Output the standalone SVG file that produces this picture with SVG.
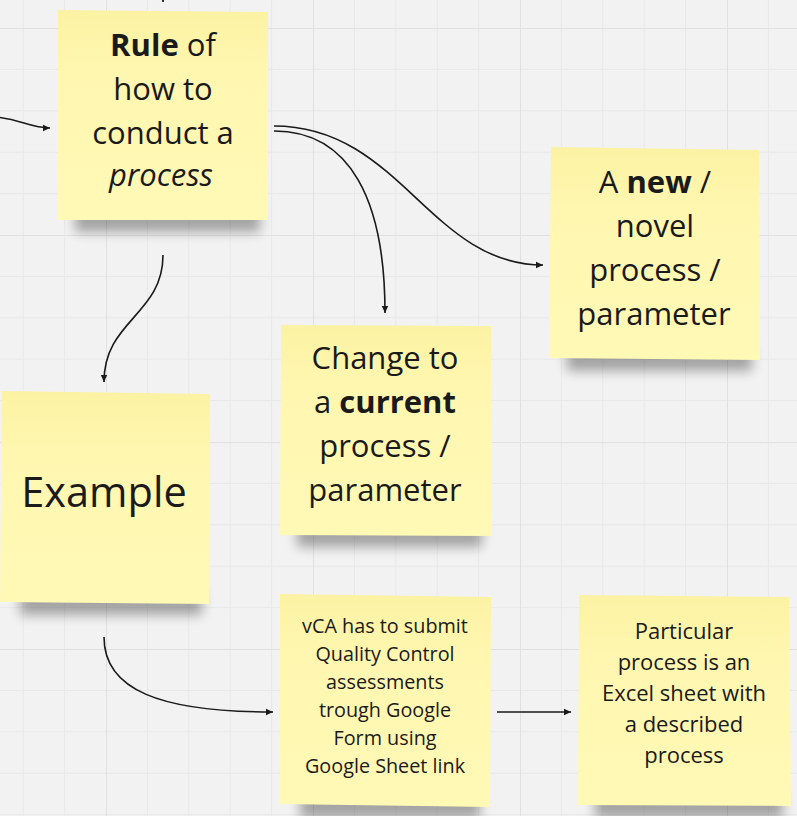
<svg xmlns="http://www.w3.org/2000/svg" width="797" height="816" viewBox="0 0 797 816">
  <defs>
    <pattern id="grid" patternUnits="userSpaceOnUse" x="106" y="28" width="207" height="207">
      <g stroke="#e8e8e8" stroke-width="1">
        <line x1="41.4" y1="0" x2="41.4" y2="207"/>
        <line x1="82.8" y1="0" x2="82.8" y2="207"/>
        <line x1="124.2" y1="0" x2="124.2" y2="207"/>
        <line x1="165.6" y1="0" x2="165.6" y2="207"/>
        <line x1="0" y1="41.4" x2="207" y2="41.4"/>
        <line x1="0" y1="82.8" x2="207" y2="82.8"/>
        <line x1="0" y1="124.2" x2="207" y2="124.2"/>
        <line x1="0" y1="165.6" x2="207" y2="165.6"/>
      </g>
      <g stroke="#e0e0e0" stroke-width="1">
        <line x1="0.5" y1="0" x2="0.5" y2="207"/>
        <line x1="0" y1="0.5" x2="207" y2="0.5"/>
      </g>
    </pattern>
    <linearGradient id="noteFill" x1="0" y1="0" x2="0" y2="1">
      <stop offset="0" stop-color="#fbf2a3"/>
      <stop offset="0.3" stop-color="#fff7b0"/>
      <stop offset="1" stop-color="#fff9b6"/>
    </linearGradient>
    <filter id="blur" x="-20%" y="-100%" width="140%" height="300%">
      <feGaussianBlur stdDeviation="6"/>
    </filter>
    <marker id="arrow" markerUnits="userSpaceOnUse" markerWidth="10" markerHeight="10" refX="7" refY="4" orient="auto">
      <path d="M0,0.8 L7,4 L0,7.2 Z" fill="#1a1a1a"/>
    </marker>
  </defs>
  <style>
    .note { fill: url(#noteFill); }
    .shadow { fill: #000; opacity: 0.32; filter: url(#blur); }
    .t { font-family: "Open Sans", "Noto Sans", "DejaVu Sans", sans-serif; fill: #1a1a1a; text-anchor: middle; }
    .big { font-size: 31px; }
    .huge { font-size: 41.5px; }
    .sm { font-size: 19.8px; }
    .md { font-size: 22px; }
    .b { font-weight: 700; }
    .i { font-style: italic; }
    .conn { fill: none; stroke: #1a1a1a; stroke-width: 1.6; marker-end: url(#arrow); }
  </style>

  <rect x="0" y="0" width="797" height="816" fill="#f2f2f2"/>
  <rect x="0" y="0" width="797" height="816" fill="url(#grid)"/>

  <g id="connectors">
    <path class="conn" d="M 163 -20 L 163 2"/>
    <path class="conn" d="M -5 117 C 20 119, 30 128, 50 128"/>
    <path class="conn" d="M 274 126 C 400 126, 430 265, 543 265"/>
    <path class="conn" d="M 274 131 C 350 131, 385 200, 385 313"/>
    <path class="conn" d="M 163 255 C 163 315, 104 320, 104 382"/>
    <path class="conn" d="M 104 637 C 104 690, 160 712, 273 712"/>
    <path class="conn" d="M 497 712 L 571 712"/>
  </g>

  <g id="node-rule">
    <rect class="shadow" x="75" y="208" width="185" height="24"/>
    <polygon class="note" points="58,10 268,12 268,220 58,220"/>
    <text class="t big" x="163" y="56"><tspan class="b">Rule</tspan> of</text>
    <text class="t big" x="163" y="100">how to</text>
    <text class="t big" x="163" y="144">conduct a</text>
    <text class="t big i" x="161" y="186">process</text>
  </g>

  <g id="node-new">
    <rect class="shadow" x="567" y="347" width="185" height="24"/>
    <polygon class="note" points="551,147 759,150 760,360 549,358"/>
    <text class="t big" x="655" y="193">A <tspan class="b">new</tspan> /</text>
    <text class="t big" x="655" y="237">novel</text>
    <text class="t big" x="655" y="281">process /</text>
    <text class="t big" x="654" y="325">parameter</text>
  </g>

  <g id="node-change">
    <rect class="shadow" x="297" y="523" width="185" height="24"/>
    <polygon class="note" points="281,325 491,326 492,536 280,535"/>
    <text class="t big" x="385" y="369">Change to</text>
    <text class="t big" x="385" y="413">a <tspan class="b">current</tspan></text>
    <text class="t big" x="385" y="457">process /</text>
    <text class="t big" x="385" y="501">parameter</text>
  </g>

  <g id="node-example">
    <rect class="shadow" x="20" y="590" width="182" height="25"/>
    <polygon class="note" points="2,391 210,394 209,604 0,602"/>
    <text class="t huge" x="104" y="507">Example</text>
  </g>

  <g id="node-vca">
    <rect class="shadow" x="300" y="794" width="180" height="24"/>
    <polygon class="note" points="280,594 491,597 490,807 280,804"/>
    <text class="t sm" x="385" y="633">vCA has to submit</text>
    <text class="t sm" x="385" y="661">Quality Control</text>
    <text class="t sm" x="385" y="689">assessments</text>
    <text class="t sm" x="385" y="717">trough Google</text>
    <text class="t sm" x="385" y="745">Form using</text>
    <text class="t sm" x="385" y="773">Google Sheet link</text>
  </g>

  <g id="node-particular">
    <rect class="shadow" x="595" y="794" width="188" height="24"/>
    <polygon class="note" points="579,595 789,597 791,806 578,805"/>
    <text class="t md" x="684" y="639">Particular</text>
    <text class="t md" x="684" y="670">process is an</text>
    <text class="t md" x="684" y="701">Excel sheet with</text>
    <text class="t md" x="684" y="732">a described</text>
    <text class="t md" x="684" y="763">process</text>
  </g>
</svg>
